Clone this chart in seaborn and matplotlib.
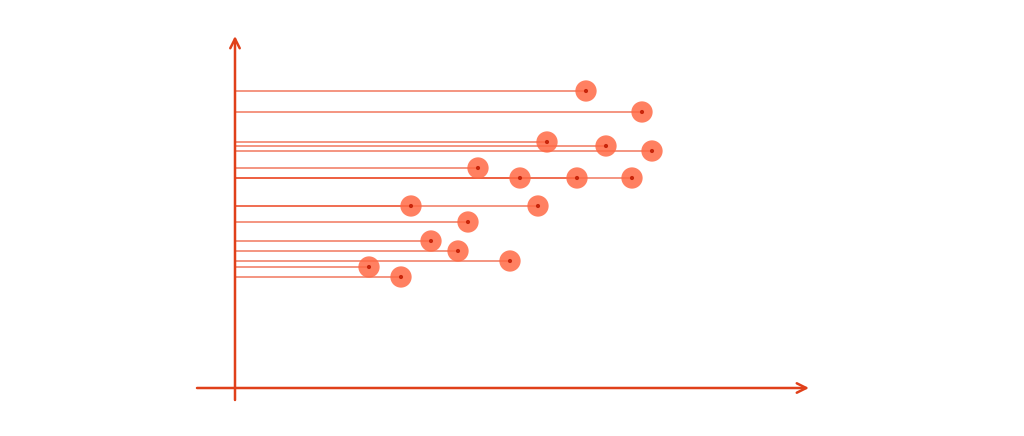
import numpy as np
import pandas as pd
import matplotlib
matplotlib.use("Agg")
import matplotlib.pyplot as plt
import seaborn as sns

# ── Data ──────────────────────────────────────────────────────────────────────
x_values = [35.1, 40.7, 31.2, 37.1, 41.7, 24.3, 28.5, 34.2, 39.7,
            17.6, 30.3, 23.3, 19.6, 22.3, 27.5, 13.4, 16.6]
y_values = [29.7, 27.6, 24.6, 24.2, 23.7, 22.0, 21.0, 21.0, 21.0,
            18.2, 18.2, 16.6, 14.7, 13.7, 12.7, 12.1, 11.1]

AXIS_COLOR = "#e0401a"
POINT_COLOR = "#ff6a45"
LINE_COLOR = "#ee5a3a"
DOT_COLOR = "#c8260c"

df = pd.DataFrame({"x": x_values, "y": y_values})

sns.set_style("white")
fig = plt.figure(figsize=(10.24, 4.36), dpi=100)
ax = fig.add_axes([0, 0, 1, 1])

# lines from the y axis to each point
ax.hlines(df["y"], 0, df["x"], color=LINE_COLOR, linewidth=1.2, alpha=0.75, zorder=2)

sns.scatterplot(data=df, x="x", y="y", ax=ax, s=235, color=POINT_COLOR,
                alpha=0.85, edgecolor="none", zorder=3, legend=False)
sns.scatterplot(data=df, x="x", y="y", ax=ax, s=9, color=DOT_COLOR,
                edgecolor="none", zorder=4, legend=False)

# custom axes with open arrow heads
arrow = dict(arrowstyle="->", color=AXIS_COLOR, lw=1.8,
             mutation_scale=17, shrinkA=0, shrinkB=0)
ax.annotate("", xy=(57.4, 0), xytext=(-3.8, 0), arrowprops=arrow, zorder=5)
ax.annotate("", xy=(0, 35.2), xytext=(0, -1.2), arrowprops=arrow, zorder=5)

ax.set_xlim(-23.5, 78.9)
ax.set_ylim(-4.8, 38.8)
ax.axis("off")

fig.savefig("out.png", dpi=100)
plt.close(fig)
